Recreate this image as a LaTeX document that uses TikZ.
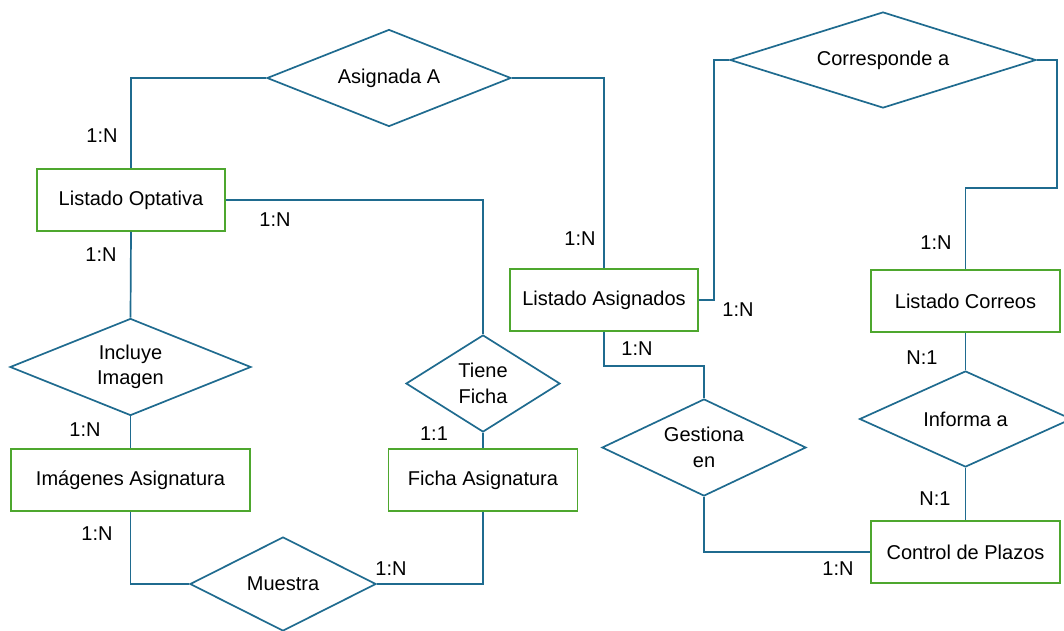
\documentclass[tikz,border=0pt]{standalone}
\usepackage{fontspec}
\setmainfont{Liberation Sans}
\usepackage{tikz}
\usetikzlibrary{positioning}
\usetikzlibrary{shapes.geometric}
\definecolor{erblue}{HTML}{1F6B8F}
\definecolor{ergreen}{HTML}{4EA72E}
\tikzstyle{entity}=[rectangle,draw=ergreen,line width=1.7pt,fill=white,minimum height=62pt,inner sep=0pt]
\tikzstyle{relation}=[diamond,aspect=2.6,draw=erblue,line width=1.7pt,fill=white,inner sep=0pt,align=center]
\tikzstyle{link} = [draw=erblue,line width=1.7pt]
\tikzstyle{card} = [font=\fontsize{20}{24}\selectfont]

\begin{document}
\begin{tikzpicture}[x=1pt,y=-1pt,font=\fontsize{20}{25.5}\selectfont]
  \useasboundingbox (0,0) rectangle (1064,630);

  % entidades
  \foreach \pos/\name/\bw/\label in {{(131,200)/optativa/188/Listado Optativa}, {(130.5,480)/imagenes/239/Imágenes Asignatura}, {(483,480)/ficha/189/Ficha Asignatura}, {(604,300)/asignados/188/Listado Asignados}, {(965.5,301)/correos/189/Listado Correos}, {(965.5,552)/control/189/Control de Plazos}}
    \node[entity,minimum width=\bw pt] (\name) at \pos {\label};

  % relaciones
  \foreach \pos/\name/\bw/\bh/\label in {{(389,78)/asignada/244/97/Asignada A}, {(883,60)/corresponde/306/96/Corresponde a}, {(130.5,367)/incluye/241/97/Incluye\\Imagen}, {(483,383.5)/tiene/154/97/Tiene\\Ficha}, {(283,584)/muestra/186/94/Muestra}, {(704,447.5)/gestiona/204/97/Gestiona\\en}, {(965.5,419)/informa/212/96/Informa a}}
    \node[relation,minimum width=\bw pt,minimum height=\bh pt] (\name) at \pos {\label};

  \path[link] (optativa.north) |- (asignada.west);
  \path[link] (asignada.east) -| (asignados.north);
  \path[link] (optativa.east) -| (tiene.north);
  \path[link] (optativa.south) -- (incluye.north);
  \path[link] (incluye.south) -- (imagenes.north);
  \path[link] (tiene.south) -- (ficha.north);
  \path[link] (imagenes.south) |- (muestra.west);
  \path[link] (muestra.east) -| (ficha.south);
  \path[link] (asignados.east) -- ++(15,0) |- (corresponde.west);
  \path[link] (corresponde.east) -| ++(20,128) -| (correos.north);
  \path[link] (asignados.south) |- ++(100,34) -- (gestiona.north);
  \path[link] (gestiona.south) |- (control.west);
  \path[link] (correos.south) -- (informa.north);
  \path[link] (informa.south) -- (control.north);

  % cardinalidades
  \foreach \pos/\name/\label in {{(102,136)/c1/1:N}, {(580,239)/c2/1:N}, {(275,220)/c3/1:N}, {(101,255)/c4/1:N}, {(434,434)/c5/1:1}, {(85,430)/c6/1:N}, {(97,534)/c7/1:N}, {(391,569)/c8/1:N}, {(738,310)/c9/1:N}, {(936,243)/c10/1:N}, {(922,358)/c11/N:1}, {(935,499)/c12/N:1}, {(637,349)/c13/1:N}, {(838,569)/c14/1:N}}
    \node[card] (\name) at \pos {\label};

\end{tikzpicture}
\end{document}
